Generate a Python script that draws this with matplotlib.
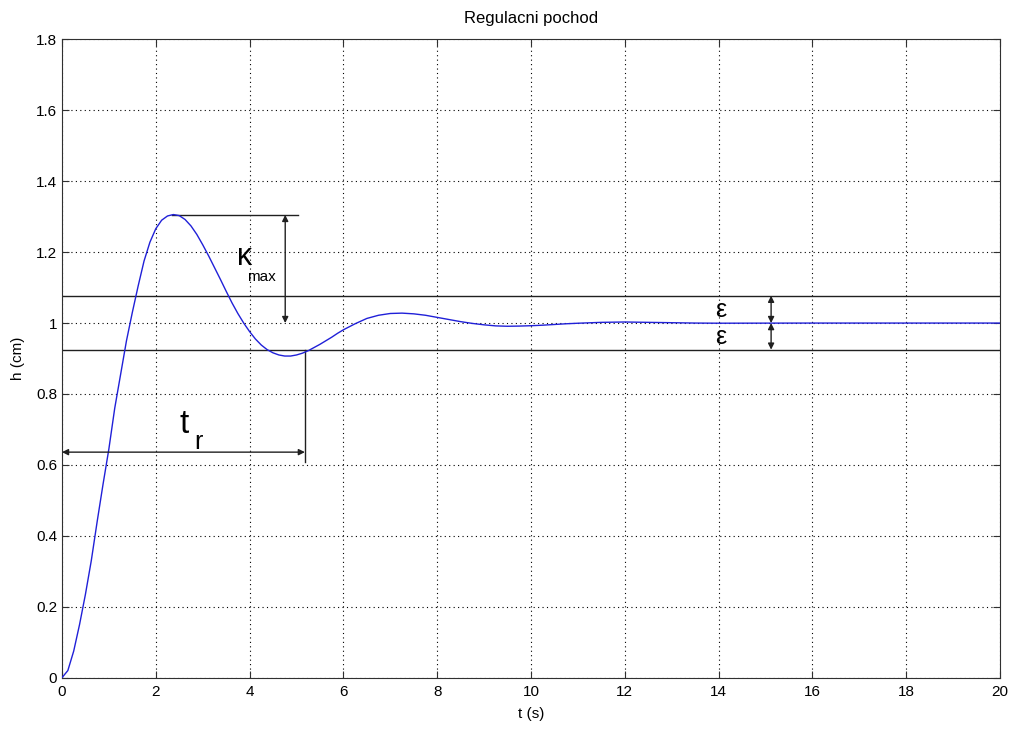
import matplotlib.pyplot as plt

# step response
T = [0, 0.125, 0.25, 0.375, 0.5, 0.625, 0.75, 0.875, 1.0, 1.125, 1.25,
     1.375, 1.5, 1.625, 1.75, 1.875, 2.0, 2.125, 2.25, 2.375, 2.5, 2.625,
     2.75, 2.875, 3.0, 3.125, 3.25, 3.375, 3.5, 3.625, 3.75, 3.875, 4.0,
     4.125, 4.25, 4.375, 4.5, 4.625, 4.75, 4.875, 5.0, 5.125, 5.25, 5.375,
     5.5, 5.625, 5.75, 5.875, 6.0, 6.25, 6.5, 6.75, 7.0, 7.25, 7.5, 7.75,
     8.0, 8.25, 8.5, 8.75, 9.0, 9.25, 9.5, 9.75, 10.0, 10.25, 10.5, 10.75,
     11.0, 11.5, 12.0, 12.5, 13.0, 13.5, 14.0, 15.0, 16.0, 18.0, 20.0]
H = [0.0, 0.02, 0.075, 0.15, 0.235, 0.33, 0.44, 0.545, 0.645, 0.76, 0.855,
     0.95, 1.03, 1.105, 1.175, 1.228, 1.266, 1.29, 1.302, 1.306, 1.303,
     1.292, 1.274, 1.250, 1.221, 1.190, 1.157, 1.124, 1.090, 1.057, 1.027,
     1.000, 0.976, 0.955, 0.938, 0.925, 0.916, 0.910, 0.907, 0.907, 0.910,
     0.915, 0.922, 0.931, 0.940, 0.950, 0.960, 0.971, 0.981, 0.998, 1.013,
     1.022, 1.027, 1.028, 1.026, 1.022, 1.016, 1.010, 1.004, 0.999, 0.995,
     0.992, 0.991, 0.9915, 0.9925, 0.994, 0.996, 0.998, 0.9995, 1.002,
     1.003, 1.002, 1.001, 1.000, 0.9996, 0.9998, 1.0, 1.0, 1.0]

# annotation values
H_PEAK = 1.305
T_PEAK = 2.35
H_FINAL = 1.0
EPS_HI = 1.077
EPS_LO = 0.925
T_KAPPA = 4.76
T_PEAK_LINE_END = 5.03
T_REG = 5.18
H_TR_ARROW = 0.636
H_TR_LINE_END = 0.608
T_EPS = 15.12

plt.rcParams["font.family"] = ["Liberation Sans", "DejaVu Sans"]

fig = plt.figure(figsize=(10.11, 7.29), dpi=100)
ax = fig.add_axes([0.0613, 0.0704, 0.9278, 0.8756])

ax.plot(T, H, color="#2020d8", lw=1.0, zorder=3)

line_kw = dict(color="#202020", lw=1.0)
ax.axhline(EPS_HI, **line_kw)
ax.axhline(EPS_LO, **line_kw)
ax.plot([T_PEAK, T_PEAK_LINE_END], [H_PEAK, H_PEAK], **line_kw)
ax.plot([T_REG, T_REG], [EPS_LO, H_TR_LINE_END], **line_kw)

arrow_kw = dict(arrowstyle="<|-|>", color="#202020", lw=1.0,
                mutation_scale=9, shrinkA=0, shrinkB=0)
ax.annotate("", xy=(T_KAPPA, H_PEAK), xytext=(T_KAPPA, H_FINAL),
            arrowprops=arrow_kw)
ax.annotate("", xy=(0, H_TR_ARROW), xytext=(T_REG, H_TR_ARROW),
            arrowprops=arrow_kw)
ax.annotate("", xy=(T_EPS, EPS_HI), xytext=(T_EPS, H_FINAL),
            arrowprops=arrow_kw)
ax.annotate("", xy=(T_EPS, H_FINAL), xytext=(T_EPS, EPS_LO),
            arrowprops=arrow_kw)

ax.text(3.9, 1.185, "κ", fontsize=22, ha="center", va="center")
ax.text(4.26, 1.13, "max", fontsize=11, ha="center", va="center")
ax.text(2.6, 0.715, "t", fontsize=24, ha="center", va="center")
ax.text(2.9, 0.665, "r", fontsize=18, ha="center", va="center")
ax.text(14.05, 1.036, "ε", fontsize=18, ha="center", va="center")
ax.text(14.05, 0.962, "ε", fontsize=18, ha="center", va="center")

ax.set_xlim(0, 20)
ax.set_ylim(0, 1.8)
ax.set_xticks(range(0, 21, 2))
ax.set_yticks([0, 0.2, 0.4, 0.6, 0.8, 1, 1.2, 1.4, 1.6, 1.8])
ax.set_yticklabels(["0", "0.2", "0.4", "0.6", "0.8", "1", "1.2", "1.4",
                    "1.6", "1.8"])
ax.tick_params(direction="in", top=True, right=True, labelsize=11,
               length=5, color="#303030")
ax.tick_params(axis="x", pad=5)
ax.grid(True, linestyle=(0, (1, 3)), color="black", lw=0.8)
for s in ax.spines.values():
    s.set_color("#303030")

ax.set_xlabel("t (s)", fontsize=11, labelpad=6)
ax.set_ylabel("h (cm)", fontsize=11, labelpad=8)
ax.set_title("Regulacni pochod", fontsize=12, pad=12)

plt.savefig("out.png", dpi=100)
